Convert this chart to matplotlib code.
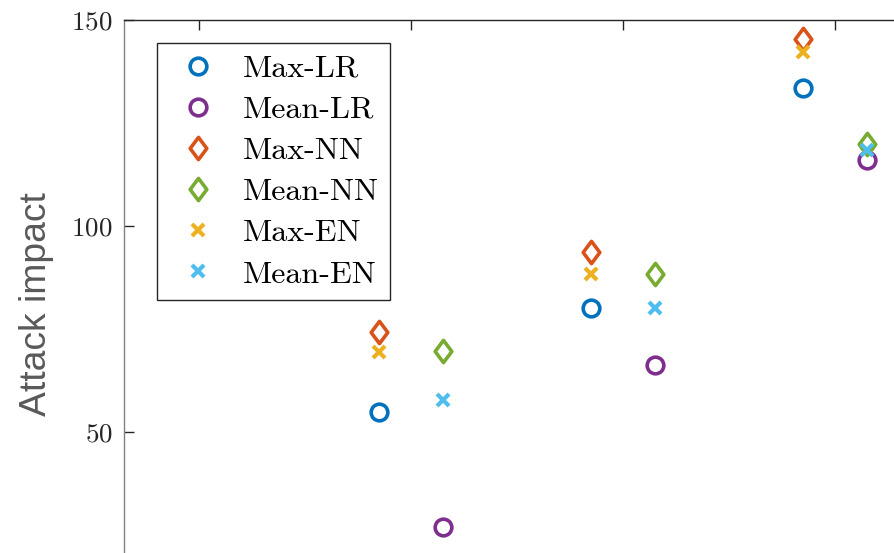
import matplotlib
matplotlib.use("Agg")
import matplotlib.pyplot as plt
from matplotlib.path import Path

# ---- data ----
groups = [2, 3, 4]
max_lr = [54.8, 80.0, 133.4]
mean_lr = [26.9, 66.3, 116.0]
max_nn = [74.2, 93.6, 145.4]
mean_nn = [69.7, 88.3, 119.9]
max_en = [69.3, 88.3, 142.2]
mean_en = [57.8, 80.0, 118.4]
yticks = [50, 100, 150]
xticks = [1, 2, 3, 4]

plt.rcParams['axes.formatter.use_mathtext'] = True
plt.rcParams['mathtext.fontset'] = 'cm'

W, H = 894, 553
fig = plt.figure(figsize=(W / 100, H / 100), dpi=100)

xlim = (0.646, 4.6)
ylim = (10, 150)
left_px, top_px = 124, 20
px_per_x = 212
px_per_y = 4.12
ax_w = (xlim[1] - xlim[0]) * px_per_x
ax_h = (ylim[1] - ylim[0]) * px_per_y
ax = fig.add_axes([left_px / W, 1 - (top_px + ax_h) / H, ax_w / W, ax_h / H])

diamond = Path([(0, 1), (0.75, 0), (0, -1), (-0.75, 0), (0, 1)],
               [Path.MOVETO, Path.LINETO, Path.LINETO, Path.LINETO, Path.CLOSEPOLY])

off = 0.151
xl = [g - off for g in groups]
xr = [g + off for g in groups]

ms_o, ms_d, ms_x = 12, 16, 9
mw = 2.6
ax.plot(xl, max_lr, 'o', ls='none', mfc='none', mec='#0072BD', ms=ms_o, mew=mw, label='Max-LR')
ax.plot(xr, mean_lr, 'o', ls='none', mfc='none', mec='#7E2F8E', ms=ms_o, mew=mw, label='Mean-LR')
ax.plot(xl, max_nn, marker=diamond, ls='none', mfc='none', mec='#D95319', ms=ms_d, mew=mw, label='Max-NN')
ax.plot(xr, mean_nn, marker=diamond, ls='none', mfc='none', mec='#77AC30', ms=ms_d, mew=mw, label='Mean-NN')
ax.plot(xl, max_en, 'x', ls='none', mec='#EDB120', ms=ms_x, mew=3.0, label='Max-EN')
ax.plot(xr, mean_en, 'x', ls='none', mec='#4DBEEE', ms=ms_x, mew=3.0, label='Mean-EN')

ax.set_xlim(*xlim)
ax.set_ylim(*ylim)
ax.set_yticks(yticks)
ax.set_xticks(xticks)
ax.set_xticklabels([])
ax.tick_params(direction='in', length=7, width=1, colors='#262626', labelsize=19.5,
               top=True, right=True, pad=8)
for lbl in ax.get_yticklabels():
    lbl.set_fontfamily('cmr10')
    lbl.set_color('#262626')
for s in ['left', 'bottom']:
    ax.spines[s].set_color('#808080')
for s in ['top', 'right']:
    ax.spines[s].set_color('#262626')
for s in ax.spines.values():
    s.set_linewidth(1)

ax.set_ylabel('Attack impact', fontsize=26.8, color='#595959', family='Liberation Sans')
ax.yaxis.set_label_coords((54 - left_px) / ax_w, 1 - (304 - top_px) / ax_h)

fs = 23
leg = ax.legend(loc='upper left',
                bbox_to_anchor=((157 - left_px) / ax_w, 1 - (43 - top_px) / ax_h),
                borderaxespad=0, fancybox=False, edgecolor='#262626', framealpha=1,
                prop={'family': 'cmr10', 'size': fs}, labelspacing=0.4,
                handlelength=1.87, handletextpad=0.45, borderpad=0.36)
leg.get_frame().set_linewidth(1)

fig.savefig('out.png', dpi=100)
